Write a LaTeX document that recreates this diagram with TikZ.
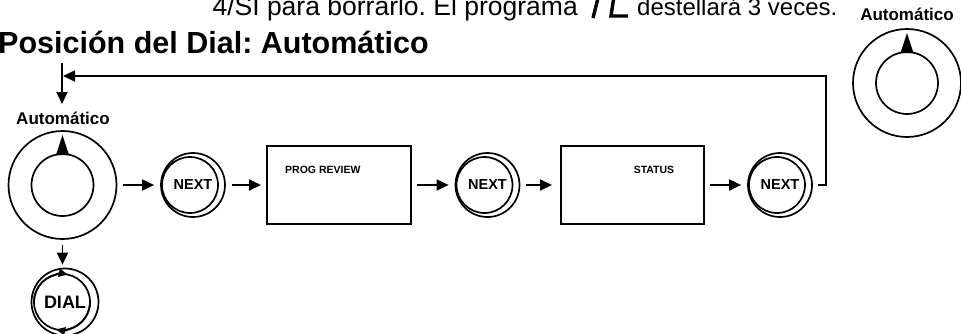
\documentclass[tikz,border=0pt]{standalone}
\usepackage{fontspec}
\setmainfont{Liberation Sans}
\frenchspacing
\usetikzlibrary{arrows.meta,calc}
\begin{document}
\begin{tikzpicture}[x=1pt,y=-1pt,
  ln/.style={line width=1.8pt},
  arr/.style={line width=1.8pt,-{Triangle[length=12pt,width=11pt]}},
  knob/.style={circle,draw,line width=1.7pt,minimum size=108pt,inner sep=0pt},
  btn/.style={circle,draw,line width=1.7pt,minimum size=64pt,inner sep=0pt,font=\bfseries\fontsize{14.5}{14.5}\selectfont},
  scr/.style={draw,line width=2pt,minimum width=144pt,minimum height=78pt,inner sep=0pt},
  lbl/.style={font=\bfseries\fontsize{17}{17}\selectfont,inner sep=0pt},
  small/.style={font=\bfseries\fontsize{10.5}{10.5}\selectfont,inner sep=0pt}]
\useasboundingbox (0,0) rectangle (961,333);
\clip (0,0) rectangle (961,333);

% top cut text line
\node[anchor=base east,font=\fontsize{26.5}{26.5}\selectfont,inner sep=0pt] (topA) at (578,15) {4/SI para borrarlo. El programa};
\node[anchor=base west,font=\fontsize{24}{24}\selectfont,inner sep=0pt] (topB) at (637,15) {destellará 3 veces.};
\draw[line width=3.4pt] (588,-2) -- (598,-2) -- (593,18);
\draw[line width=3.4pt] (614,-4) -- (611,16) -- (628,16);

% title
\node[anchor=base west,font=\bfseries\fontsize{30.5}{30.5}\selectfont,inner sep=0pt] (title) at (-2,53) {Posición del Dial: Automático};

% right knob
\node[lbl,anchor=base] (lblR) at (907,20) {Automático};
\node[knob] (dialR) at (907,83) {};
\draw[line width=1.7pt] (dialR.center) circle[radius=31pt];
\fill ($(dialR.center)+(0,-50)$) -- ($(dialR.center)+(-6.5,-30)$) -- ($(dialR.center)+(6.5,-30)$) -- cycle;

% left knob
\node[lbl,anchor=base] (lblL) at (63,124) {Automático};
\node[knob] (dialL) at (62.5,185) {};
\draw[line width=1.7pt] (dialL.center) circle[radius=31pt];
\fill ($(dialL.center)+(0,-50)$) -- ($(dialL.center)+(-6.5,-30)$) -- ($(dialL.center)+(6.5,-30)$) -- cycle;

% next buttons
\node[btn] (next1) at (193,185) {NEXT};
\draw[line width=1.7pt] ($(next1.center)+(-3,0)$) circle[radius=28pt];
\node[btn] (next2) at (487.5,185) {NEXT};
\draw[line width=1.7pt] ($(next2.center)+(-3,0)$) circle[radius=28pt];
\node[btn] (next3) at (780,185) {NEXT};
\draw[line width=1.7pt] ($(next3.center)+(-3,0)$) circle[radius=28pt];

% screens
\node[scr] (box1) at (339,185) {};
\node[small,anchor=west] (t1) at (285,170) {PROG REVIEW};
\node[scr,minimum width=143pt] (box2) at (632.5,185) {};
\node[small] (t2) at (654,170) {STATUS};

% dial button
\node[btn,minimum size=67pt,font=\bfseries\fontsize{18}{18}\selectfont] (dialB) at (65,302) {DIAL};
\coordinate (dc) at ($(dialB.center)+(-3,0)$);
\draw[line width=1.7pt] (dc) circle[radius=28pt];
\draw[line width=1.7pt,-{Triangle[length=9pt,width=8pt]}] ($(dc)+(-28,0)$) arc[start angle=180,end angle=78,radius=28pt];
\draw[line width=1.7pt,-{Triangle[length=9pt,width=8pt]}] ($(dc)+(28,0)$) arc[start angle=0,end angle=-102,radius=28pt];

% flow arrows
\draw[arr,shorten <=6pt,shorten >=6pt] (dialL) -- (next1);
\draw[arr,shorten <=6pt,shorten >=5pt] (next1) -- (box1);
\draw[arr,shorten <=5pt,shorten >=6pt] (box1) -- (next2);
\draw[arr,shorten <=6pt,shorten >=8pt] (next2) -- (box2);
\draw[arr,shorten <=5pt,shorten >=6pt] (box2) -- (next3);
\draw[arr,shorten <=5pt,shorten >=3pt] (dialL.south) -- (dialL.south |- dialB.north);

% return path
\coordinate (rA) at (826,185);
\coordinate (rB) at (826,76);
\coordinate (rC) at (63,76);
\coordinate (rTop) at (62,63);
\coordinate (rDown) at (62,104);
\draw[arr] ([xshift=5pt]next3.east) -- (rA) -- (rB) -- (rC);
\draw[arr] (rTop) -- (rDown);
\end{tikzpicture}
\end{document}
